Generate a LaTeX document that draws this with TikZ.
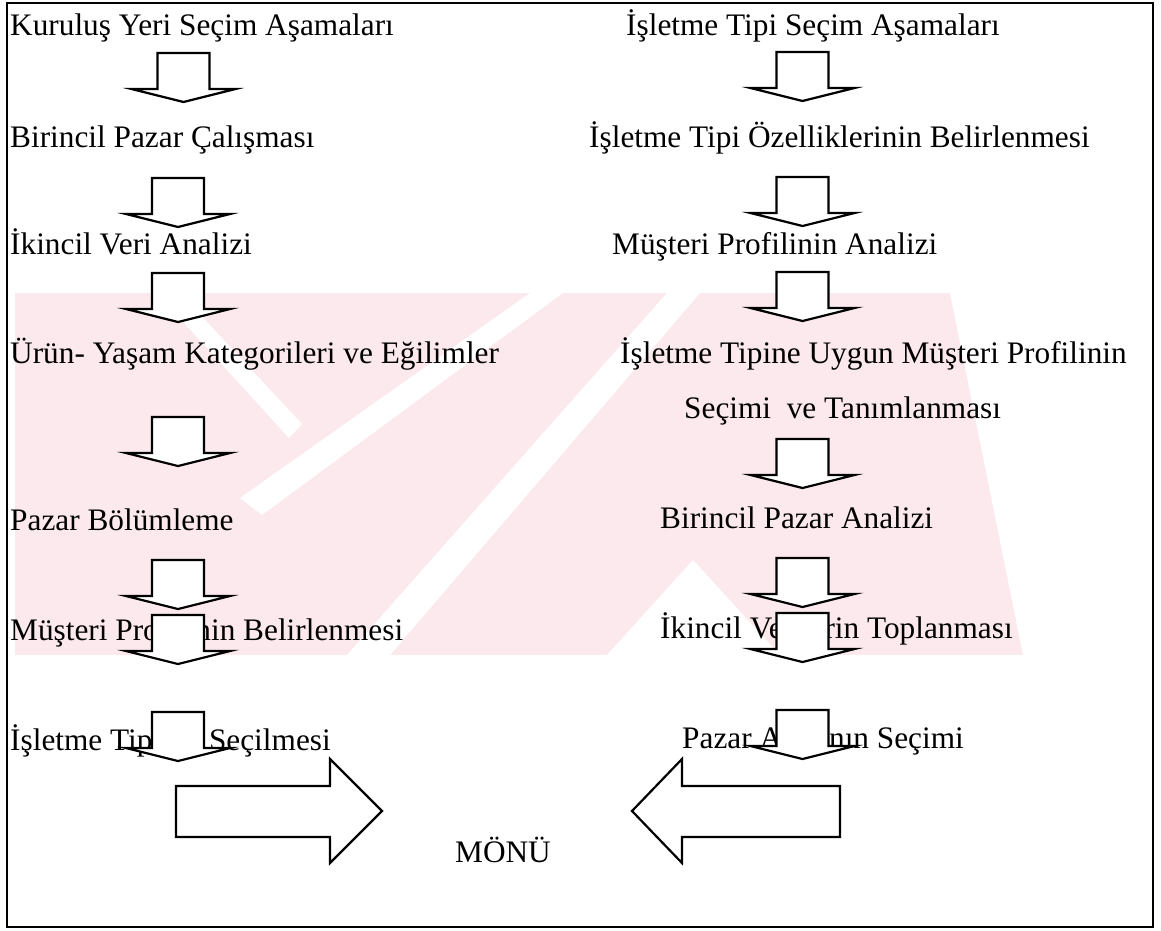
\documentclass[tikz,border=0pt]{standalone}
\usepackage{fontspec}
\setmainfont{Liberation Serif}
\definecolor{wmpink}{RGB}{252,233,237}
\tikzset{
  lbl/.style={anchor=base west, inner sep=0pt, font=\fontsize{31.3}{37}\selectfont},
  blockarrow/.style={draw=black, fill=white, line width=2.2pt, line join=miter},
  frameline/.style={draw=black, line width=1.8pt},
  darrow/.pic={
    \path[blockarrow] (-26,0) -- (26,0) -- (26,36) -- (52,36) -- (0,49) -- (-52,36) -- (-26,36) -- cycle;
  }
}
\begin{document}
\begin{tikzpicture}[x=1pt,y=-1pt]
\useasboundingbox (0,0) rectangle (1161,930);
\fill[white] (0,0) rectangle (1161,930);
% watermark
\begin{scope}
\clip (15,293) rectangle (1023,655);
\fill[wmpink] (15,293) rectangle (1023,655);
\fill[white] (950,293) -- (1161,293) -- (1161,655) -- (1023,655) -- cycle;
\fill[white] (157,293) -- (180,293) -- (302,424) -- (289,438) -- cycle;
\fill[white] (530,293) -- (563,293) -- (262,515) -- (240,498) -- cycle;
\fill[white] (667,293) -- (700,293) -- (390,655) -- (347,655) -- cycle;
\fill[white] (693,560) -- (780,655) -- (607,655) -- cycle;
\end{scope}
% frame
\draw[frameline] (7,3) rectangle (1153,927);
% left column
\node[lbl] (l1) at (10,35) {Kuruluş Yeri Seçim Aşamaları};
\node[lbl] (l2) at (10,147) {Birincil Pazar Çalışması};
\node[lbl] (l3) at (10,254) {İkincil Veri Analizi};
\node[lbl] (l4) at (10,363) {Ürün- Yaşam Kategorileri ve Eğilimler};
\node[lbl] (l5) at (10,530) {Pazar Bölümleme};
\node[lbl] (l6) at (10,640) {Müşteri Profilinin Belirlenmesi};
\node[lbl] (l7) at (10,750) {İşletme Tipinin Seçilmesi};
% right column
\node[lbl] (r1) at (626,35) {İşletme Tipi Seçim Aşamaları};
\node[lbl] (r2) at (589,147) {İşletme Tipi Özelliklerinin Belirlenmesi};
\node[lbl] (r3) at (612,254) {Müşteri Profilinin Analizi};
\node[lbl] (r4) at (620,363) {İşletme Tipine Uygun Müşteri Profilinin};
\node[lbl] (r4b) at (684,418) {Seçimi\ \ ve Tanımlanması};
\node[lbl] (r5) at (660,528) {Birincil Pazar Analizi};
\node[lbl] (r6) at (660,638) {İkincil Verilerin Toplanması};
\node[lbl] (r7) at (682,748) {Pazar Alanının Seçimi};
\node[lbl] (menu) at (455,862) {MÖNÜ};
% left arrows
\pic (a1) at (183.5,53) {darrow};
\pic (a2) at (178,178) {darrow};
\pic (a3) at (178,273) {darrow};
\pic (a4) at (178,417) {darrow};
\pic (a5) at (178,560) {darrow};
\pic (a6) at (178,615) {darrow};
\pic (a7) at (178,712) {darrow};
% right arrows
\pic (b1) at (802.5,52) {darrow};
\pic (b2) at (802.5,177) {darrow};
\pic (b3) at (802.5,272) {darrow};
\pic (b4) at (802.5,439) {darrow};
\pic (b5) at (802.5,558) {darrow};
\pic (b6) at (802.5,613) {darrow};
\pic (b7) at (802.5,710) {darrow};
% big arrows toward MÖNÜ
\path[blockarrow] (176,786) -- (330,786) -- (330,759) -- (382,811) -- (330,863) -- (330,837) -- (176,837) -- cycle;
\path[blockarrow] (840,786) -- (682,786) -- (682,759) -- (632,811) -- (682,863) -- (682,837) -- (840,837) -- cycle;
\end{tikzpicture}
\end{document}
